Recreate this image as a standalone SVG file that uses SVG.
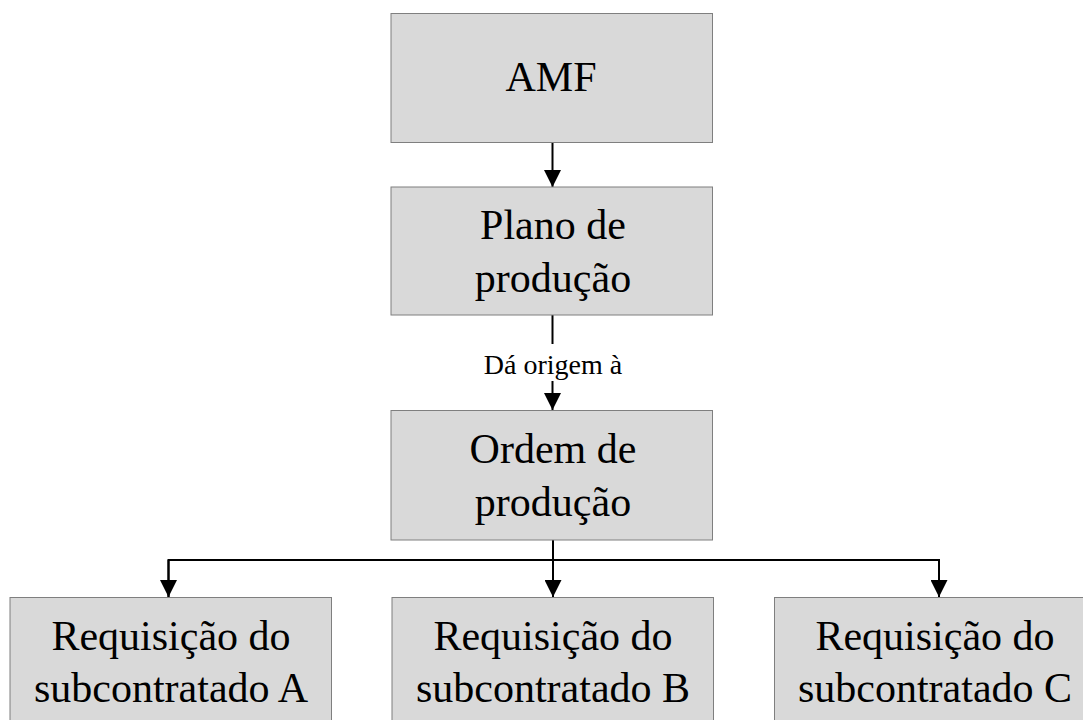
<svg xmlns="http://www.w3.org/2000/svg" width="1083" height="720" viewBox="0 0 1083 720">
  <defs>
    <marker id="arrow" viewBox="0 0 17 17" refX="17" refY="8.5" markerWidth="17" markerHeight="17" markerUnits="userSpaceOnUse" orient="auto">
      <path d="M0,0 L17,8.5 L0,17 Z" fill="#000"/>
    </marker>
    <style>
      .box { fill: #d9d9d9; stroke: #7f7f7f; stroke-width: 1; }
      .txt { font-family: "Liberation Serif", "Times New Roman", serif; font-size: 42px; fill: #000; text-anchor: middle; }
      .lbl { font-family: "Liberation Serif", "Times New Roman", serif; font-size: 28px; fill: #000; text-anchor: middle; }
      .conn { fill: none; stroke: #000; stroke-width: 2; }
    </style>
  </defs>
  <rect width="1083" height="720" fill="#fff"/>

  <g id="connectors">
    <path class="conn" d="M552.5,142.5 V187" marker-end="url(#arrow)"/>
    <path class="conn" d="M552.5,315 V344"/>
    <path class="conn" d="M552.5,381 V410" marker-end="url(#arrow)"/>
    <text class="lbl" x="553" y="374">Dá origem à</text>
    <path class="conn" d="M553,540 V597" marker-end="url(#arrow)"/>
    <path class="conn" d="M168.5,597 V560 H939 V597" marker-end="url(#arrow)"/>
    <path class="conn" d="M168.5,560 V597" marker-end="url(#arrow)"/>
  </g>

  <g id="amf">
    <rect class="box" x="391" y="13.5" width="321.5" height="129"/>
    <text class="txt" x="551" y="91">AMF</text>
  </g>

  <g id="plano">
    <rect class="box" x="391" y="187" width="321.5" height="128"/>
    <text class="txt" x="553" y="239">Plano de</text>
    <text class="txt" x="553" y="292">produção</text>
  </g>

  <g id="ordem">
    <rect class="box" x="391" y="410.5" width="321.5" height="129.5"/>
    <text class="txt" x="553" y="463">Ordem de</text>
    <text class="txt" x="553" y="516">produção</text>
  </g>

  <g id="req-a">
    <rect class="box" x="10" y="597.5" width="321.5" height="130"/>
    <text class="txt" x="171" y="650">Requisição do</text>
    <text class="txt" x="171" y="702">subcontratado A</text>
  </g>

  <g id="req-b">
    <rect class="box" x="392" y="597.5" width="321.5" height="130"/>
    <text class="txt" x="553" y="650">Requisição do</text>
    <text class="txt" x="553" y="702">subcontratado B</text>
  </g>

  <g id="req-c">
    <rect class="box" x="774.5" y="597.5" width="321.5" height="130"/>
    <text class="txt" x="935" y="650">Requisição do</text>
    <text class="txt" x="935" y="702">subcontratado C</text>
  </g>
</svg>
